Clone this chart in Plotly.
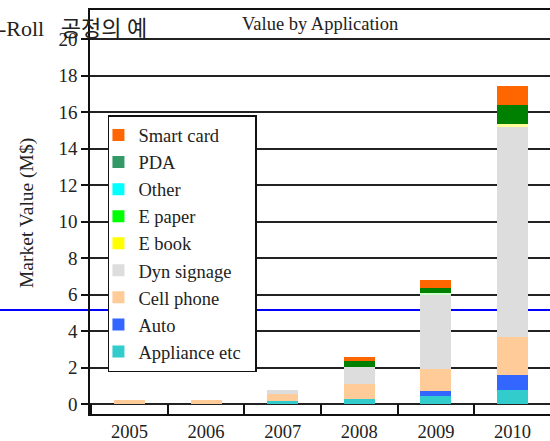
import plotly.graph_objects as go

years = ["2005", "2006", "2007", "2008", "2009", "2010"]

appliance = [0.0, 0.0, 0.15, 0.30, 0.42, 0.77]
auto = [0.0, 0.0, 0.0, 0.0, 0.27, 0.82]
cell_phone = [0.22, 0.22, 0.37, 0.82, 1.21, 2.08]
dyn_signage = [0.0, 0.0, 0.24, 0.92, 4.07, 11.50]
e_book = [0.0, 0.0, 0.0, 0.0, 0.0, 0.18]
e_paper = [0.0, 0.0, 0.0, 0.0, 0.13, 0.0]
other = [0.0, 0.0, 0.0, 0.0, 0.0, 0.0]
pda = [0.0, 0.0, 0.0, 0.31, 0.26, 1.04]
smart_card = [0.0, 0.0, 0.0, 0.24, 0.44, 1.04]

series_names = ["Appliance etc", "Auto", "Cell phone", "Dyn signage", "E book",
                "E paper", "Other", "PDA", "Smart card"]
series_values = [appliance, auto, cell_phone, dyn_signage, e_book,
                 e_paper, other, pda, smart_card]
bar_colors = ["#33CCCC", "#3366FF", "#FFCC99", "#DDDDDD", "#FFFF99",
              "#CCFFCC", "#00FFFF", "#008000", "#FF6600"]
legend_colors = ["#33CCCC", "#3366FF", "#FFCC99", "#DDDDDD", "#FFFF00",
                 "#00FF00", "#00FFFF", "#339966", "#FF6600"]

ref_line_value = 5.16

SERIF = "Liberation Serif"
KOR = "Liberation Serif, Noto Sans CJK KR"
TXT = "#222222"

fig = go.Figure()
for name, vals, col in zip(series_names, series_values, bar_colors):
    fig.add_trace(go.Bar(x=years, y=vals, name=name, marker_color=col,
                         marker_line_width=0, width=0.405, showlegend=False))
for name, col in zip(series_names, legend_colors):
    fig.add_trace(go.Bar(x=[None], y=[None], name=name + "\u00a0\u00a0",
                         marker_color=col, marker_line_width=0, showlegend=True))

fig.add_shape(type="line", xref="paper", yref="y", x0=-90/460, x1=1,
              y0=ref_line_value, y1=ref_line_value,
              line=dict(color="#0000FF", width=2), layer="below")

fig.update_layout(
    width=550, height=441,
    margin=dict(l=90, r=0, t=10, b=27),
    paper_bgcolor="white", plot_bgcolor="white",
    barmode="stack",
    font=dict(family=SERIF, size=18, color=TXT),
    showlegend=True,
    legend=dict(x=0.039, y=0.740, xanchor="left", yanchor="top",
                traceorder="reversed", bgcolor="white", indentation=-11,
                bordercolor="#111111", borderwidth=1.5,
                font=dict(family=SERIF, size=18.5, color=TXT)),
    xaxis=dict(type="category", range=[-0.516, 5.49],
               showgrid=False, showline=True, linecolor="#111111", linewidth=1.5,
               mirror=True, ticks="inside", ticklen=10, tickwidth=1.5,
               tickcolor="#111111", tickson="boundaries",
               tickfont=dict(family=SERIF, size=18.5, color=TXT)),
    yaxis=dict(range=[-0.55, 21.61], tickvals=list(range(0, 21, 2)),
               showgrid=True, gridcolor="#222222", gridwidth=1.5,
               zeroline=True, zerolinecolor="#222222", zerolinewidth=1.5,
               showline=True, linecolor="#111111", linewidth=1.5, mirror=False,
               ticks="outside", ticklen=7, tickwidth=1.5, tickcolor="#111111",
               tickfont=dict(family=SERIF, size=19, color=TXT)),
    annotations=[
        dict(text="Value by Application", xref="paper", yref="paper",
             x=0.5, y=(414-24)/404, xanchor="center", yanchor="middle",
             showarrow=False, font=dict(family=SERIF, size=18.5, color=TXT)),
        dict(text="Market Value (M$)", xref="paper", yref="paper",
             x=(27-90)/460, y=(414-213)/404, xanchor="center", yanchor="middle",
             textangle=-90, showarrow=False,
             font=dict(family=SERIF, size=19.5, color=TXT)),
        dict(text="-Roll\u00a0\u00a0\u00a0공정의 예", xref="paper", yref="paper",
             x=-93/460, y=(414-28)/404, xanchor="left", yanchor="middle",
             showarrow=False, font=dict(family=KOR, size=22, color=TXT)),
    ],
)

fig.write_html("out.html", config={"displayModeBar": False},
               post_script="document.body.style.margin='0';"
                           "document.body.style.overflow='hidden';")
